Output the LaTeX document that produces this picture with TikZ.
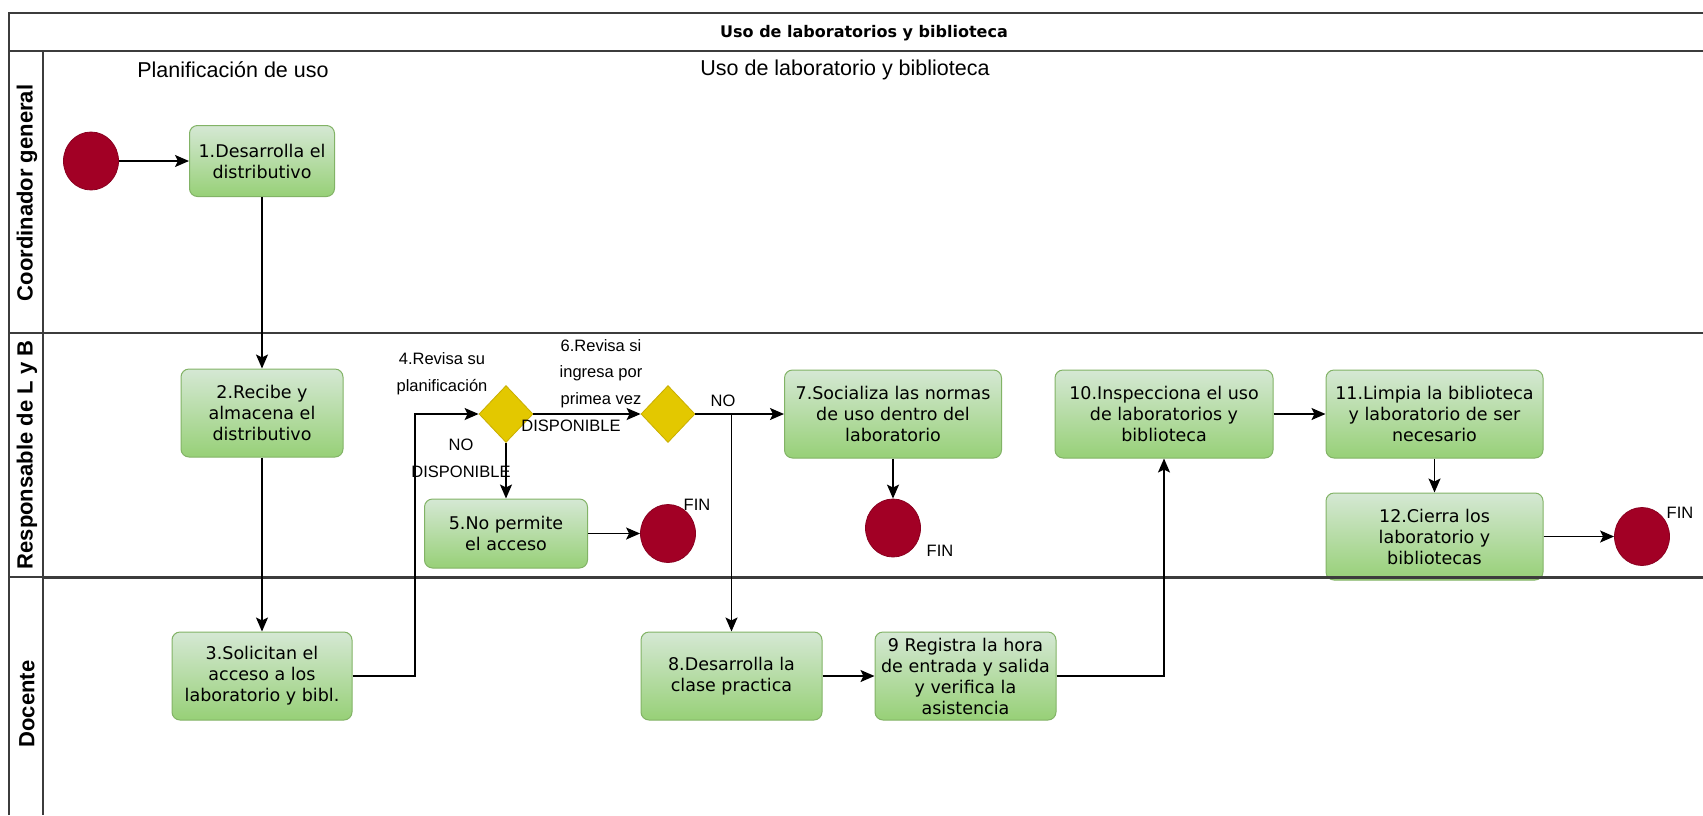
\documentclass[tikz,border=0pt]{standalone}
\usepackage{fontspec}
\setmainfont{DejaVu Sans}
\newfontfamily\arialfont{Liberation Sans}
\newfontfamily\dvfont{DejaVu Sans}
\usetikzlibrary{shapes.geometric,arrows.meta}
\definecolor{boxtop}{HTML}{D5E8D4}
\definecolor{boxbot}{HTML}{97D077}
\definecolor{boxline}{HTML}{82B366}
\definecolor{endred}{HTML}{A20025}
\definecolor{endline}{HTML}{8A0020}
\definecolor{gatefill}{HTML}{E3C800}
\definecolor{gateline}{HTML}{C9AE00}
\definecolor{framecol}{HTML}{3C3C3C}
\begin{document}
\begin{tikzpicture}[x=1pt,y=-1pt,
 task/.style={rectangle, rounded corners=8pt, draw=boxline, line width=1pt, top color=boxtop, bottom color=boxbot, align=center, inner sep=0pt, font=\dvfont\fontsize{17.5}{21}\selectfont},
 endev/.style={ellipse, draw=endline, line width=0.8pt, fill=endred, minimum width=55pt, minimum height=58pt, inner sep=0pt},
 gate/.style={diamond, draw=gateline, line width=0.8pt, fill=gatefill, minimum width=54pt, minimum height=57pt, inner sep=0pt},
 flow/.style={draw=black, line width=1.6pt, -{Stealth[length=14pt,width=12pt,inset=3pt]}},
 lbl/.style={font=\arialfont\fontsize{16.5}{26.5}\selectfont, align=center, inner sep=0pt},
 lanelbl/.style={font=\arialfont\bfseries\fontsize{22}{26}\selectfont, rotate=90, inner sep=0pt},
 phase/.style={font=\arialfont\fontsize{21.5}{26}\selectfont, inner sep=0pt},
 sepline/.style={draw=framecol, line width=1.6pt}
]
\useasboundingbox (0,0) rectangle (1703,815);

% frame and lanes
\draw[sepline] (9,815) -- (9,13) -- (1703,13);
\draw[sepline] (9,51) -- (1703,51);
\draw[sepline] (43,51) -- (43,815);
\draw[sepline] (9,333) -- (1703,333);
\draw[sepline] (9,577) -- (43,577);

\node[font=\dvfont\bfseries\fontsize{16}{19}\selectfont] (title) at (864,33) {Uso de laboratorios y biblioteca};
\node[lanelbl] (lane1) at (27,193) {Coordinador general};
\node[lanelbl] (lane2) at (27,455) {Responsable de L y B};
\node[lanelbl] (lane3) at (27,704) {Docente};
\node[phase] (phase1) at (233,70) {Planificación de uso};
\node[phase] (phase2) at (845,70) {Uso de laboratorio y biblioteca};

% nodes
\node[endev] (start) at (91,161) {};
\node[task, minimum width=145pt, minimum height=71pt] (b1) at (262,161) {1.Desarrolla el\\distributivo};
\node[task, minimum width=162pt, minimum height=88pt] (b2) at (262,413) {2.Recibe y\\almacena el\\distributivo};
\node[task, minimum width=180pt, minimum height=88pt] (b3) at (262,676) {3.Solicitan el\\acceso a los\\laboratorio y bibl.};
\node[gate] (d1) at (506,414) {};
\node[gate] (d2) at (668,414) {};
\node[task, minimum width=163pt, minimum height=69pt] (b5) at (506,533.5) {5.No permite\\el acceso};
\node[endev] (fin1) at (668,533.5) {};
\node[task, minimum width=217pt, minimum height=88pt] (b7) at (893,414) {7.Socializa las normas\\de uso dentro del\\laboratorio};
\node[endev] (fin2) at (893,528) {};
\node[task, minimum width=181pt, minimum height=88pt] (b8) at (731.5,676) {8.Desarrolla la\\clase practica};
\node[task, minimum width=181pt, minimum height=88pt] (b9) at (965.5,676) {9 Registra la hora\\de entrada y salida\\y verifica la\\asistencia};
\node[task, minimum width=218pt, minimum height=88pt] (b10) at (1164,414) {10.Inspecciona el uso\\de laboratorios y\\biblioteca};
\node[task, minimum width=217pt, minimum height=88pt] (b11) at (1434.5,414) {11.Limpia la biblioteca\\y laboratorio de ser\\necesario};
\node[task, minimum width=217pt, minimum height=87pt] (b12) at (1434.5,536.5) {12.Cierra los\\laboratorio y\\bibliotecas};
\node[endev] (fin3) at (1642,536.5) {};

% lane separator over boxes
\draw[sepline, line width=3pt] (43,577) -- (1703,577);

% labels
\node[lbl] (l4) at (442,373.5) {4.Revisa su\\planificación};
\node[lbl] (l6) at (601,373.5) {6.Revisa si\\ingresa por\\primea vez};
\node[lbl] (ldisp) at (571,426) {DISPONIBLE};
\node[lbl] (lnodisp) at (461,458.5) {NO\\DISPONIBLE};
\node[lbl] (lno) at (723,401) {NO};
\node[lbl] (f1) at (697,505) {FIN};
\node[lbl] (f2) at (940,551) {FIN};
\node[lbl] (f3) at (1680,513) {FIN};

% connectors
\coordinate (c1) at (415,414);
\coordinate (j1) at (b8.north |- d2.east);
\draw[flow] (start) -- (b1);
\draw[flow] (b1) -- (b2);
\draw[flow] (b2) -- (b3);
\draw[flow] (b3.east) -| (c1) -- (d1.west);
\draw[flow] (d1.east) -- (d2.west);
\draw[flow] (d1.south) -- (b5.north);
\draw[flow] (b5) -- (fin1);
\draw[flow] (d2.east) -- (b7.west);
\draw[flow] (j1) -- (b8.north);
\draw[flow] (b7) -- (fin2);
\draw[flow] (b8) -- (b9);
\draw[flow] (b9.east) -| (b10.south);
\draw[flow] (b10) -- (b11);
\draw[flow] (b11) -- (b12);
\draw[flow] (b12) -- (fin3);
\end{tikzpicture}
\end{document}
